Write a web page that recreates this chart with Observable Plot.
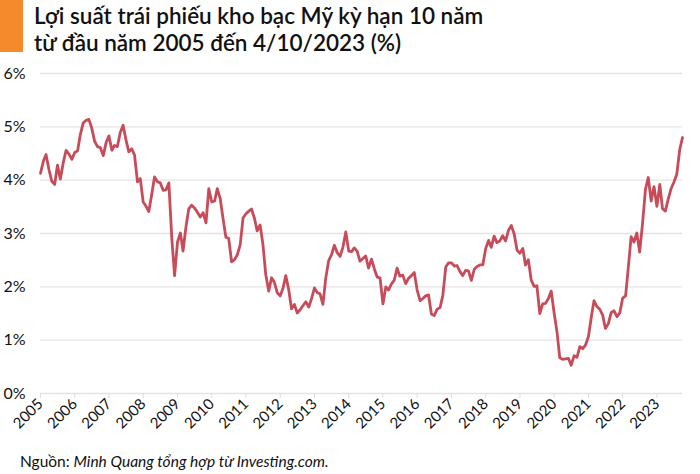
<!DOCTYPE html>
<html>
<head>
<meta charset="utf-8">
<script src="https://cdn.jsdelivr.net/npm/d3@7"></script>
<script src="https://cdn.jsdelivr.net/npm/@observablehq/plot@0.6"></script>
<style>
  html, body { margin: 0; padding: 0; background: #fff; }
  body { width: 700px; height: 474px; overflow: hidden; font-family: Lato, "Noto Sans", sans-serif; color: #111; }
  .header { position: relative; height: 58px; }
  .bar { position: absolute; left: 0; top: 0; width: 23px; height: 52px; background: #F48A2B; }
  .title { position: absolute; left: 34px; top: 2px; font-size: 22.5px; line-height: 27px; font-weight: 600; color: #111; white-space: nowrap; }
  .caption { height: 28px; padding-left: 20px; padding-top: 5px; font-size: 15.5px; line-height: 20px; color: #111; box-sizing: border-box; white-space: nowrap; }
  .caption i { font-style: italic; }
  #chart g[aria-label="y-axis tick label"] { font-size: 16px; }
  #chart g[aria-label="x-axis tick label"] { font-size: 15px; }
</style>
</head>
<body>
<div class="header"><div class="bar"></div><div class="title">Lợi suất trái phiếu kho bạc Mỹ kỳ hạn 10 năm<br>từ đầu năm 2005 đến 4/10/2023 (%)</div></div>
<div id="chart"></div>
<div class="caption">Nguồn: <i>Minh Quang tổng hợp từ Investing.com.</i></div>
<script>
// Monthly 10-year US Treasury yield (%), Jan 2005 – Oct 2023
const startYear = 2005;
const yields = [
  // 2005
  4.13, 4.36, 4.48, 4.20, 3.98, 3.92, 4.28, 4.02, 4.33, 4.56, 4.49, 4.39,
  // 2006
  4.52, 4.55, 4.85, 5.07, 5.12, 5.14, 4.98, 4.73, 4.63, 4.61, 4.46, 4.70,
  // 2007
  4.83, 4.56, 4.65, 4.63, 4.89, 5.03, 4.76, 4.53, 4.59, 4.47, 3.97, 4.03,
  // 2008
  3.59, 3.51, 3.41, 3.73, 4.06, 3.97, 3.95, 3.81, 3.82, 3.95, 2.92, 2.21,
  // 2009
  2.84, 3.01, 2.67, 3.12, 3.46, 3.53, 3.48, 3.40, 3.31, 3.39, 3.20, 3.84,
  // 2010
  3.59, 3.61, 3.84, 3.66, 3.29, 2.93, 2.91, 2.47, 2.51, 2.60, 2.79, 3.29,
  // 2011
  3.37, 3.42, 3.46, 3.29, 3.05, 3.16, 2.80, 2.22, 1.92, 2.17, 2.08, 1.89,
  // 2012
  1.83, 1.98, 2.21, 1.95, 1.59, 1.67, 1.51, 1.57, 1.65, 1.72, 1.62, 1.78,
  // 2013
  1.98, 1.89, 1.87, 1.67, 2.16, 2.49, 2.60, 2.78, 2.64, 2.57, 2.75, 3.03,
  // 2014
  2.67, 2.66, 2.73, 2.67, 2.48, 2.53, 2.58, 2.35, 2.52, 2.34, 2.18, 2.17,
  // 2015
  1.68, 2.00, 1.94, 2.05, 2.12, 2.35, 2.20, 2.22, 2.06, 2.16, 2.21, 2.27,
  // 2016
  1.94, 1.74, 1.78, 1.83, 1.85, 1.49, 1.46, 1.58, 1.61, 1.84, 2.37, 2.45,
  // 2017
  2.45, 2.39, 2.40, 2.29, 2.21, 2.31, 2.30, 2.12, 2.33, 2.38, 2.41, 2.41,
  // 2018
  2.72, 2.87, 2.74, 2.95, 2.83, 2.86, 2.96, 2.86, 3.06, 3.15, 2.99, 2.69,
  // 2019
  2.63, 2.72, 2.41, 2.51, 2.13, 2.01, 2.02, 1.50, 1.68, 1.69, 1.78, 1.92,
  // 2020
  1.51, 1.15, 0.67, 0.64, 0.65, 0.66, 0.53, 0.71, 0.68, 0.88, 0.84, 0.91,
  // 2021
  1.07, 1.44, 1.74, 1.63, 1.58, 1.47, 1.22, 1.31, 1.52, 1.55, 1.44, 1.51,
  // 2022
  1.79, 1.83, 2.34, 2.94, 2.84, 3.01, 2.65, 3.19, 3.83, 4.05, 3.61, 3.88,
  // 2023
  3.51, 3.92, 3.47, 3.42, 3.64, 3.84, 3.96, 4.11, 4.57, 4.80
];
const yearLabels = [2005, 2006, 2007, 2008, 2009, 2010, 2011, 2012, 2013, 2014,
                    2015, 2016, 2017, 2018, 2019, 2020, 2021, 2022, 2023];
const yTicks = [0, 1, 2, 3, 4, 5, 6];

const data = yields.map((v, i) => ({ date: new Date(Date.UTC(startYear, i, 1)), value: v }));
const yearDates = yearLabels.map(y => new Date(Date.UTC(y, 0, 1)));

const chart = Plot.plot({
  width: 700,
  height: 388,
  marginLeft: 40,
  marginRight: 18,
  marginTop: 15,
  marginBottom: 53,
  style: { fontFamily: "Lato, sans-serif", fontSize: "14px", color: "#111", background: "#fff", overflow: "visible" },
  x: { type: "utc", domain: [data[0].date, data[data.length - 1].date] },
  y: { domain: [0, 6] },
  marks: [
    Plot.gridY(yTicks, { stroke: "#e4e4e4", strokeOpacity: 1, strokeWidth: 1.3 }),
    Plot.axisY(yTicks, { tickSize: 0, tickPadding: 15, tickFormat: d => d + "%", label: null }),
    Plot.axisX(yearDates, { tickRotate: -45, tickSize: 5, tickPadding: 3, tickFormat: d => String(d.getUTCFullYear()), label: null, stroke: "#ddd", fill: "#111" }),
    Plot.lineY(data, { x: "date", y: "value", stroke: "#C84B59", strokeWidth: 2.8, strokeLinejoin: "round" })
  ]
});
document.getElementById("chart").appendChild(chart);
</script>
</body>
</html>
